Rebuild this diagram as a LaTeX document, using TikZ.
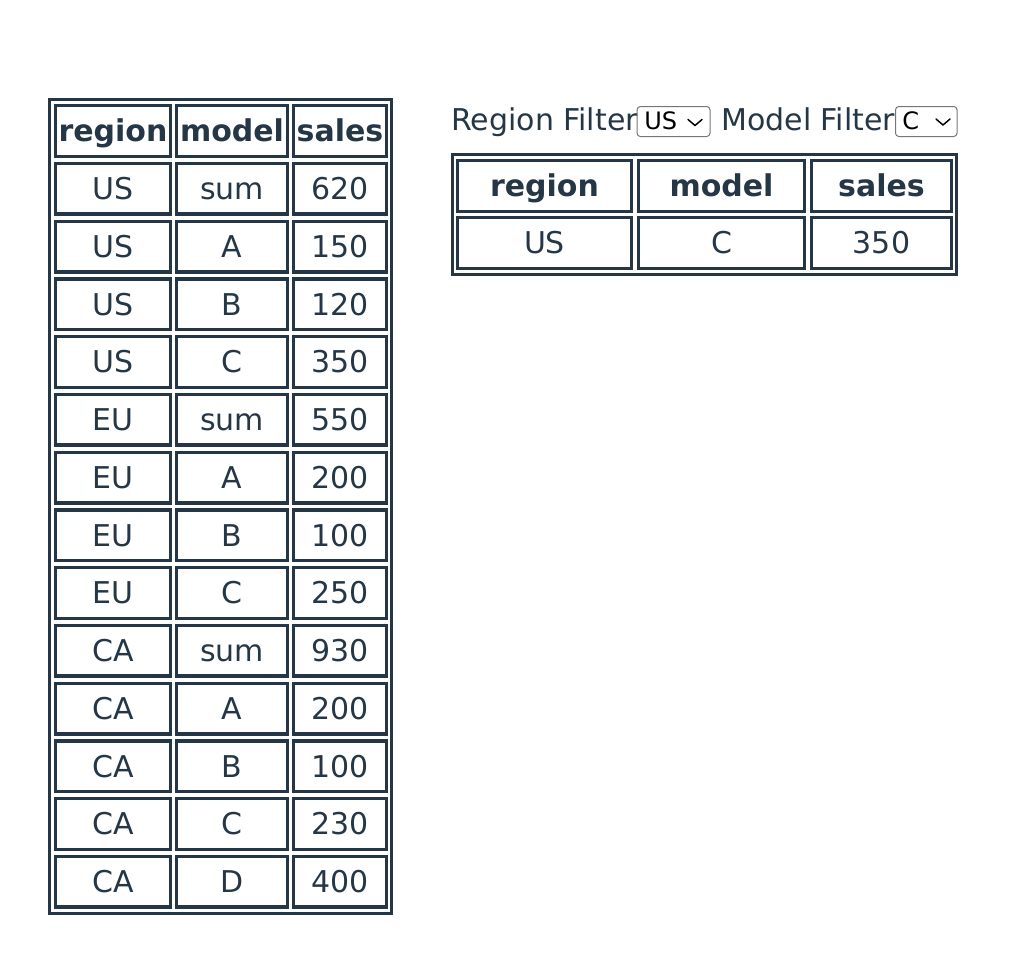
\documentclass[tikz,border=0pt]{standalone}
\usepackage{fontspec}
\setmainfont{DejaVu Sans}
\usepackage{tikz}

\definecolor{ink}{HTML}{253746}
\definecolor{edge}{HTML}{767676}

\begin{document}
\begin{tikzpicture}[x=0.75pt, y=-0.75pt,
    cell/.style={draw=ink, text=ink, line width=2.5pt, inner sep=0pt,
      minimum height=38pt, text height=16.4pt, text depth=0pt,
      font=\fontsize{22.5}{27}\selectfont},
    headcell/.style={cell, font=\fontsize{22.5}{27}\selectfont\bfseries},
    colr/.style={minimum width=86pt},
    colm/.style={minimum width=83pt},
    cols/.style={minimum width=69.5pt},
    widr/.style={minimum width=130.25pt},
    widm/.style={minimum width=124.25pt},
    wids/.style={minimum width=104.75pt},
    frame/.style={draw=ink, line width=2.5pt},
    filtertext/.style={text=ink, inner sep=0pt, anchor=base west,
      font=\fontsize{22.5}{27}\selectfont},
    dropbox/.style={draw=edge, line width=0.75pt, rounded corners=2.5pt,
      inner sep=0pt, minimum height=22.5pt},
    droptext/.style={inner sep=0pt, anchor=base west,
      font=\fontsize{18}{22}\selectfont},
    chev/.style={line width=1.1pt, line cap=round, line join=round}]

    \useasboundingbox (0,0) rectangle (1023,972);

    % full table
    \draw[frame] (49.67,99.67) rectangle (391.33,913.33);

    \node[headcell, colr] (lrh) at (113, 131) {region};
    \node[headcell, colm] (lmh) at (232, 131) {model};
    \node[headcell, cols] (lsh) at (340, 131) {sales};

    \node[cell, colr] (lr1) at (113, 188.75) {US};
    \node[cell, colm] (lm1) at (232, 188.75) {sum};
    \node[cell, cols] (ls1) at (340, 188.75) {620};

    \node[cell, colr] (lr2) at (113, 246.5) {US};
    \node[cell, colm] (lm2) at (232, 246.5) {A};
    \node[cell, cols] (ls2) at (340, 246.5) {150};

    \node[cell, colr] (lr3) at (113, 304.25) {US};
    \node[cell, colm] (lm3) at (232, 304.25) {B};
    \node[cell, cols] (ls3) at (340, 304.25) {120};

    \node[cell, colr] (lr4) at (113, 362) {US};
    \node[cell, colm] (lm4) at (232, 362) {C};
    \node[cell, cols] (ls4) at (340, 362) {350};

    \node[cell, colr] (lr5) at (113, 419.75) {EU};
    \node[cell, colm] (lm5) at (232, 419.75) {sum};
    \node[cell, cols] (ls5) at (340, 419.75) {550};

    \node[cell, colr] (lr6) at (113, 477.5) {EU};
    \node[cell, colm] (lm6) at (232, 477.5) {A};
    \node[cell, cols] (ls6) at (340, 477.5) {200};

    \node[cell, colr] (lr7) at (113, 535.25) {EU};
    \node[cell, colm] (lm7) at (232, 535.25) {B};
    \node[cell, cols] (ls7) at (340, 535.25) {100};

    \node[cell, colr] (lr8) at (113, 593) {EU};
    \node[cell, colm] (lm8) at (232, 593) {C};
    \node[cell, cols] (ls8) at (340, 593) {250};

    \node[cell, colr] (lr9) at (113, 650.75) {CA};
    \node[cell, colm] (lm9) at (232, 650.75) {sum};
    \node[cell, cols] (ls9) at (340, 650.75) {930};

    \node[cell, colr] (lr10) at (113, 708.5) {CA};
    \node[cell, colm] (lm10) at (232, 708.5) {A};
    \node[cell, cols] (ls10) at (340, 708.5) {200};

    \node[cell, colr] (lr11) at (113, 766.25) {CA};
    \node[cell, colm] (lm11) at (232, 766.25) {B};
    \node[cell, cols] (ls11) at (340, 766.25) {100};

    \node[cell, colr] (lr12) at (113, 824) {CA};
    \node[cell, colm] (lm12) at (232, 824) {C};
    \node[cell, cols] (ls12) at (340, 824) {230};

    \node[cell, colr] (lr13) at (113, 881.75) {CA};
    \node[cell, colm] (lm13) at (232, 881.75) {D};
    \node[cell, cols] (ls13) at (340, 881.75) {400};

    % filters
    \node[filtertext] (regflt) at (451, 130.5) {Region Filter};
    \node[dropbox, minimum width=54.75pt] (regbox) at (673.5, 121.5) {};
    \node[droptext] (regval) at (644, 129.5) {US};
    \draw[chev] (688, 119.5) -- (695, 125.5) -- (702, 119.5);

    \node[filtertext] (modflt) at (721, 130.5) {Model Filter};
    \node[dropbox, minimum width=46.125pt] (modbox) at (926.25, 121.5) {};
    \node[droptext] (modval) at (902, 129.5) {C};
    \draw[chev] (936, 119) -- (943, 125) -- (950, 119);

    % filtered table
    \draw[frame] (452.67,154.67) rectangle (956.33,274.33);

    \node[headcell, widr] (rrh) at (544.5, 186) {region};
    \node[headcell, widm] (rmh) at (721.5, 186) {model};
    \node[headcell, wids] (rsh) at (881.5, 186) {sales};

    \node[cell, widr] (rr1) at (544.5, 243) {US};
    \node[cell, widm] (rm1) at (721.5, 243) {C};
    \node[cell, wids] (rs1) at (881.5, 243) {350};
\end{tikzpicture}
\end{document}
